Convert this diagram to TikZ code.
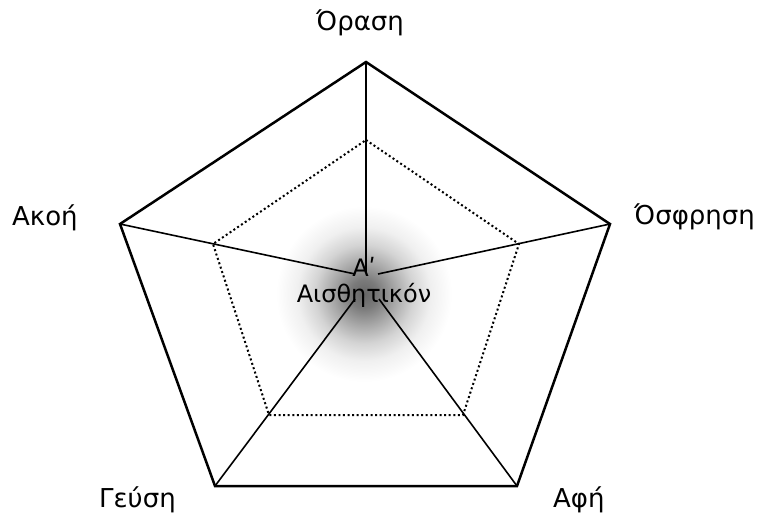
\documentclass[tikz,border=0pt]{standalone}
\usepackage{fontspec}
\setmainfont{DejaVu Sans}
\pgfdeclareradialshading{glow}{\pgfpoint{0bp}{0bp}}{color(0bp)=(black!60); color(4bp)=(black!52); color(9bp)=(black!34); color(14bp)=(black!17); color(19bp)=(black!6); color(25bp)=(white); color(50bp)=(white)}
\begin{document}
\begin{tikzpicture}[x=1pt,y=-1pt,
  outer/.style={line width=2.5pt,line join=miter},
  spoke/.style={line width=1.6pt},
  innerp/.style={line width=2pt,dash pattern=on 2pt off 2.6pt},
  lbl/.style={inner sep=0pt,anchor=base west,font=\fontsize{26}{30}\selectfont}]
\useasboundingbox (0,0) rectangle (761,515);
\shade[shading=glow] (364,294) circle (88);
% outer vertices
\coordinate (T) at (366,62);
\coordinate (R) at (610,224);
\coordinate (BR) at (517,486);
\coordinate (BL) at (215,486);
\coordinate (L) at (120,224);
% inner vertices
\coordinate (iT) at (366,140);
\coordinate (iR) at (519,244);
\coordinate (iBR) at (463,415);
\coordinate (iBL) at (269,415);
\coordinate (iL) at (213,244);
% spoke ends
\coordinate (eT) at (366,272);
\coordinate (eL) at (355,274);
\coordinate (eR) at (378,274);
\coordinate (eBL) at (355,299);
\coordinate (eBR) at (379,299);
\draw[innerp] (iT) -- (iR) -- (iBR) -- (iBL) -- (iL) -- cycle;
\draw[spoke] (T) -- (eT);
\draw[spoke] (L) -- (eL);
\draw[spoke] (R) -- (eR);
\draw[spoke] (BL) -- (eBL);
\draw[spoke] (BR) -- (eBR);
\draw[outer] (T) -- (R) -- (BR) -- (BL) -- (L) -- cycle;
% labels
\node[lbl] (orasi) at (316,30) {Όραση};
\node[lbl] (akoi) at (12,225) {Ακοή};
\node[lbl] (osfr) at (634,224) {Όσφρηση};
\node[lbl] (geusi) at (99,507) {Γεύση};
\node[lbl] (afi) at (553,507) {Αφή};
\node[inner sep=0pt,align=center,anchor=base,font=\fontsize{24}{26}\selectfont] (center) at (364,302) {Αʹ\\Αισθητικόν};
\end{tikzpicture}
\end{document}
